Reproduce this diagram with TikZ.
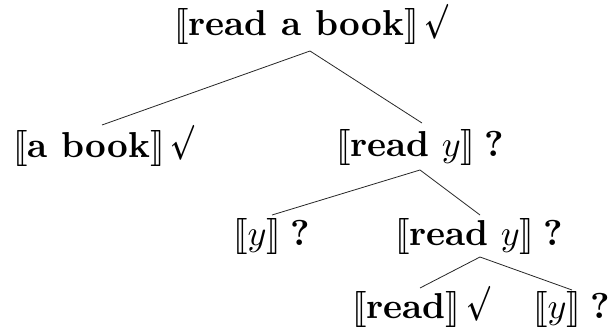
\documentclass[tikz,border=0pt]{standalone}
\usepackage{graphicx}
\usepackage{amsmath}
\usepackage{stmaryrd}
\newcommand\mydb[1]{$\llbracket$#1$\rrbracket$}
\newcommand\myck{\kern1.6pt\raisebox{1.5pt}[7pt][0pt]{\scalebox{0.68}[0.97]{$\boldsymbol{\surd}$}}}
\newcommand\myqm{\kern2.5pt\textbf{?}}
\begin{document}
\begin{tikzpicture}[x=1pt,y=-1pt,
  lbl/.style={anchor=base west, inner sep=0pt},
  edge/.style={line width=0.8pt, draw=black!85}]
\useasboundingbox (0,0) rectangle (610,329);
\node[lbl] (root) at (174,36) {\scalebox{3.6}{\mydb{\textbf{read a book}}\myck}};
\node[lbl] (book) at (13,157) {\scalebox{3.6}{\mydb{\textbf{a book}}\myck}};
\node[lbl] (ry1) at (336,156) {\scalebox{3.6}{\mydb{\textbf{read} $y$}\myqm}};
\node[lbl] (y1) at (233,245) {\scalebox{3.6}{\mydb{$y$}\myqm}};
\node[lbl] (ry2) at (395,245) {\scalebox{3.6}{\mydb{\textbf{read} $y$}\myqm}};
\node[lbl] (rd) at (352,318) {\scalebox{3.6}{\mydb{\textbf{read}}\myck}};
\node[lbl] (y2) at (533,318) {\scalebox{3.6}{\mydb{$y$}\myqm}};
\coordinate (root-b) at ([shift={(136,15)}]root.base west);
\coordinate (book-t) at ([shift={(89,-32)}]book.base west);
\coordinate (ry1-t) at ([shift={(86,-33)}]ry1.base west);
\coordinate (ry1-b) at ([shift={(84,14)}]ry1.base west);
\coordinate (y1-t) at ([shift={(39,-30)}]y1.base west);
\coordinate (ry2-t) at ([shift={(85,-30)}]ry2.base west);
\coordinate (ry2-b) at ([shift={(85,12)}]ry2.base west);
\coordinate (rd-t) at ([shift={(68,-30)}]rd.base west);
\coordinate (y2-t) at ([shift={(39,-28)}]y2.base west);
\draw[edge] (book-t) -- (root-b) -- (ry1-t);
\draw[edge] (y1-t) -- (ry1-b) -- (ry2-t);
\draw[edge] (rd-t) -- (ry2-b) -- (y2-t);
\end{tikzpicture}
\end{document}
